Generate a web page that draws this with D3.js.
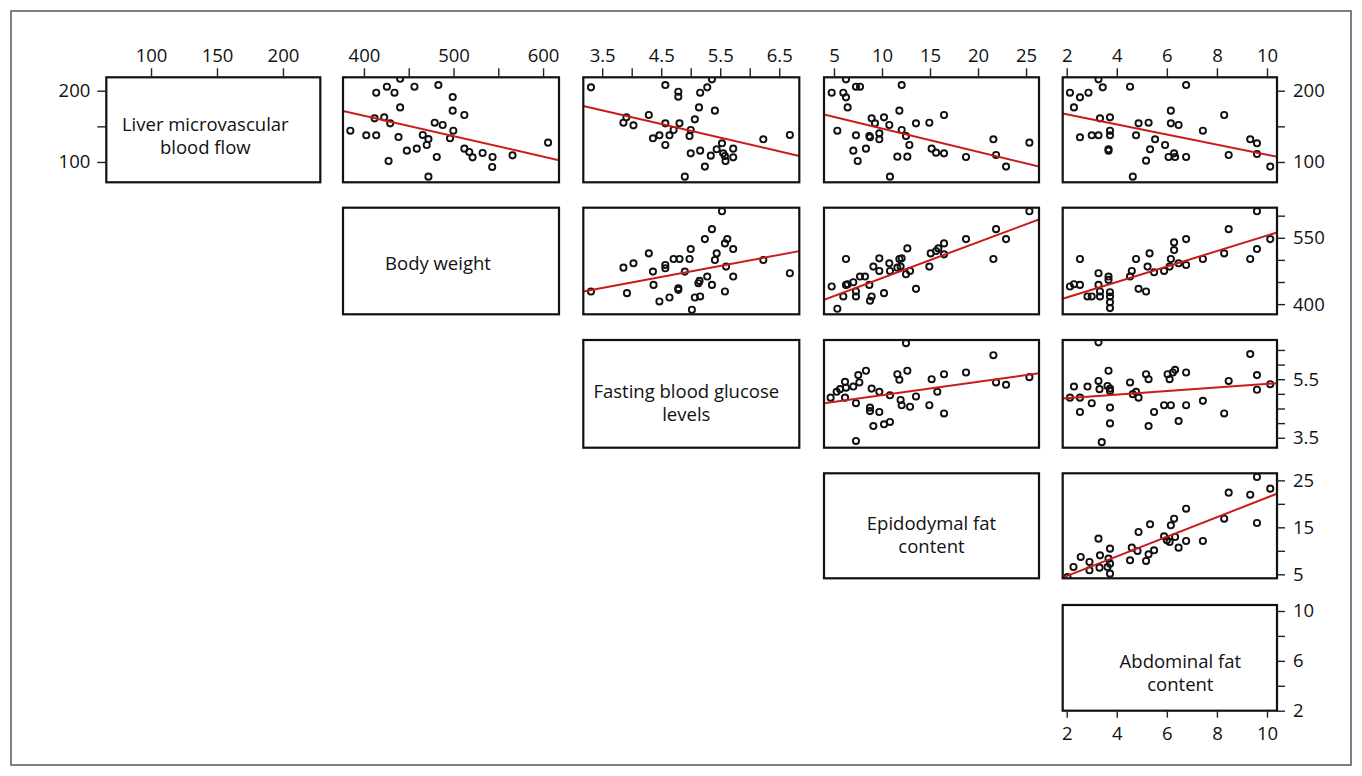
<!DOCTYPE html>
<html><head><meta charset="utf-8">
<script src="https://cdn.jsdelivr.net/npm/d3@7"></script>
<style>
html,body{margin:0;padding:0;background:#fff;}
svg{display:block;}
text{font-family:"Open Sans","Noto Sans",sans-serif;fill:#111;}
</style></head><body>
<svg id="chart" width="1362" height="776"></svg>
<script>
// ---------------- DATA ----------------
const variableLabels = [
  ["Liver microvascular", "blood flow"],
  ["Body weight"],
  ["Fasting blood glucose", "levels"],
  ["Epidodymal fat", "content"],
  ["Abdominal fat", "content"]
];
// axis ranges per variable (as used horizontally / vertically)
const xDomains = [[66.1, 228.3], [376.6, 617.8], [3.18, 6.84], [3.96, 26.35], [1.84, 10.4]];
const yDomains = [[71.5, 218.8], [377, 618], [3.16, 6.84], [4.15, 26.5], [2, 10.48]];

const topTicks = [[100,150,200],[400,450,500,550,600],[3.5,4,4.5,5,5.5,6,6.5],[5,10,15,20,25],[2,4,6,8,10]];
const topTickLabels = [[100,150,200],[400,500,600],[3.5,4.5,5.5,6.5],[5,10,15,20,25],[2,4,6,8,10]];
const rightTicks = [[100,150,200],[400,450,500,550,600],[3.5,4,4.5,5,5.5,6,6.5],[5,10,15,20,25],[2,4,6,8,10]];
const rightTickLabels = [[100,200],[400,550],[3.5,5.5],[5,15,25],[2,6,10]];
const leftTicks = [100,150,200];
const leftTickLabels = [100,200];
const bottomTicks = [2,4,6,8,10];
const bottomTickLabels = [2,4,6,8,10];

// scatter pairs [x, y]
const bwLiver = [[384.8,143.9],[402.6,137.4],[413.7,137.4],[413.7,197.2],[411.9,161.2],[422.6,162.6],[425.6,205.6],[429.3,154.2],[434.1,197.2],[440.4,216.8],[440.4,176.6],[438.6,135.0],[427.5,101.4],[447.9,115.9],[456.4,205.6],[459.0,118.7],[465.7,137.9],[470.1,123.8],[472.0,132.2],[479.0,155.1],[483.1,207.9],[487.9,151.9],[499.1,191.1],[499.1,172.0],[499.8,143.9],[496.1,133.2],[512.1,165.9],[481.3,107.0],[472.0,79.4],[512.1,118.7],[517.6,114.0],[521.3,106.5],[532.5,112.6],[543.6,107.0],[543.2,93.0],[565.9,109.3],[605.6,127.1]];
const glucLiver = [[3.31,204.7],[3.86,155.1],[3.91,162.6],[4.03,151.4],[4.29,165.9],[4.36,133.2],[4.47,137.4],[4.57,207.9],[4.57,154.2],[4.57,123.8],[4.64,137.4],[4.71,144.9],[4.79,198.6],[4.79,191.6],[4.81,154.2],[4.98,136.4],[5.00,144.9],[5.00,112.1],[5.07,159.8],[5.14,176.6],[5.16,197.2],[5.16,115.9],[5.24,93.5],[5.28,204.7],[5.36,215.9],[5.34,108.9],[5.41,172.0],[5.44,117.8],[5.53,126.2],[5.58,108.4],[5.59,101.4],[5.72,118.7],[5.72,106.5],[6.23,131.8],[6.68,137.9],[4.90,79.4],[5.55,112.1]];
const epiLiver = [[4.76,197.2],[5.35,143.9],[5.97,197.2],[6.25,215.9],[6.25,190.7],[6.42,176.6],[7.01,115.9],[7.29,205.6],[7.71,205.6],[7.29,137.4],[7.47,101.4],[8.33,118.7],[8.68,136.4],[8.75,134.6],[8.92,161.2],[9.27,154.2],[9.72,140.2],[9.72,131.8],[10.21,162.6],[10.76,151.9],[10.83,79.4],[11.60,107.5],[11.81,172.0],[12.05,207.9],[12.05,144.9],[12.50,136.4],[12.64,107.5],[12.85,123.8],[13.54,154.2],[14.93,155.1],[15.17,118.7],[15.63,113.1],[16.46,165.9],[16.46,112.1],[18.75,107.0],[21.60,131.8],[21.88,109.8],[22.92,93.5],[25.35,127.1]];
const abdLiver = [[2.13,197.2],[2.29,176.6],[2.53,190.7],[2.53,134.6],[2.87,197.2],[3.00,137.4],[3.27,137.4],[3.27,215.9],[3.44,204.7],[3.33,161.2],[3.73,162.6],[3.73,143.9],[3.73,137.4],[3.67,117.8],[3.67,115.9],[4.53,205.6],[4.64,79.4],[4.77,137.4],[4.87,154.2],[5.17,101.9],[5.27,155.1],[5.33,117.8],[5.53,131.8],[5.93,123.8],[6.07,107.0],[6.16,172.0],[6.16,154.2],[6.29,112.1],[6.33,107.0],[6.47,151.9],[6.77,207.9],[6.77,107.0],[7.44,143.9],[8.29,165.9],[8.47,109.8],[9.33,131.8],[9.60,126.2],[9.60,111.2],[10.13,93.5]];
const glucBw = [[3.31,428.5],[3.86,482.5],[3.92,424.8],[4.03,492.3],[4.29,514.8],[4.36,473.5],[4.37,443.5],[4.47,406.0],[4.57,488.5],[4.57,481.0],[4.64,415.0],[4.71,502.0],[4.81,502.0],[4.79,436.0],[4.79,432.3],[4.90,473.5],[4.98,502.0],[5.00,524.5],[5.02,387.3],[5.07,415.0],[5.13,447.3],[5.15,452.5],[5.16,417.3],[5.24,547.0],[5.28,462.3],[5.36,569.5],[5.36,443.5],[5.41,499.8],[5.44,514.8],[5.53,610.0],[5.58,428.5],[5.60,484.8],[5.58,537.3],[5.62,547.0],[5.72,524.5],[5.72,462.3],[6.23,499.8],[6.68,469.8]];
const epiBw = [[4.76,439.8],[5.35,389.5],[5.97,417.3],[6.25,502.0],[6.25,443.5],[6.42,445.0],[7.01,449.5],[7.29,428.5],[7.29,417.3],[7.71,462.3],[8.23,462.3],[8.68,443.5],[8.75,407.5],[8.92,417.3],[9.10,484.8],[9.72,503.5],[9.72,475.0],[10.21,424.8],[10.76,492.3],[10.83,475.0],[11.60,482.5],[11.81,502.0],[12.05,503.5],[12.50,467.5],[12.64,526.0],[12.92,475.0],[13.54,434.5],[14.93,484.8],[15.07,514.8],[15.63,520.0],[15.87,526.0],[16.46,537.3],[16.46,512.5],[18.75,547.0],[21.60,502.0],[21.88,569.5],[22.92,547.0],[25.35,610.0],[11.94,484.8]];
const abdBw = [[2.13,439.8],[2.29,445.0],[2.53,443.5],[2.53,502.0],[2.83,417.3],[3.00,417.3],[3.27,469.8],[3.27,443.5],[3.33,417.3],[3.33,428.5],[3.67,462.3],[3.67,454.8],[3.73,427.0],[3.73,417.3],[3.73,404.5],[3.73,391.0],[4.53,462.3],[4.60,475.0],[4.77,502.0],[4.87,434.5],[5.17,428.5],[5.23,484.8],[5.31,514.8],[5.49,472.0],[5.89,475.0],[6.11,484.8],[6.16,502.0],[6.29,522.3],[6.29,539.5],[6.47,492.3],[6.77,547.0],[6.77,488.5],[7.44,502.0],[8.29,514.8],[8.47,569.5],[9.33,502.0],[9.60,524.5],[9.60,610.0],[10.13,547.0]];
const epiGluc = [[4.65,4.87],[5.28,5.07],[5.63,5.16],[6.15,5.41],[6.15,4.87],[6.25,5.21],[7.01,5.25],[7.29,4.68],[7.29,3.39],[7.64,5.39],[7.53,5.64],[8.33,5.79],[8.75,4.53],[8.75,4.41],[8.92,5.18],[9.10,3.90],[9.72,5.07],[9.72,4.38],[10.21,3.96],[10.83,4.95],[10.83,4.04],[11.60,5.67],[11.81,5.48],[11.94,4.79],[12.05,4.61],[12.50,6.73],[12.64,5.79],[12.92,4.56],[13.54,4.91],[14.93,4.61],[15.17,5.50],[15.76,5.07],[16.46,5.67],[16.46,4.33],[18.75,5.73],[21.60,6.32],[21.88,5.39],[22.92,5.31],[25.35,5.57]];
const abdGluc = [[2.13,4.87],[2.29,5.25],[2.53,4.87],[2.53,4.38],[2.83,5.25],[3.00,4.68],[3.27,6.76],[3.27,5.44],[3.31,5.16],[3.40,3.35],[3.63,5.27],[3.67,5.79],[3.73,5.18],[3.73,5.10],[3.73,4.53],[3.73,3.99],[4.53,5.39],[4.64,4.99],[4.77,5.07],[4.87,4.87],[5.17,5.67],[5.27,5.50],[5.27,3.90],[5.49,4.38],[5.89,4.61],[6.03,5.67],[6.11,5.50],[6.16,4.61],[6.24,5.73],[6.33,5.82],[6.47,4.07],[6.77,5.73],[6.77,4.61],[7.44,4.76],[8.29,4.33],[8.47,5.44],[9.33,6.36],[9.60,5.64],[9.60,5.14],[10.13,5.33]];
const abdEpi = [[2.03,4.43],[2.27,6.56],[2.56,8.69],[2.91,7.62],[2.91,5.85],[3.27,12.59],[3.31,6.42],[3.33,9.04],[3.63,6.56],[3.67,8.33],[3.73,10.46],[3.73,5.14],[3.73,7.27],[4.53,7.98],[4.60,10.67],[4.83,9.97],[4.87,14.01],[5.17,7.84],[5.27,9.26],[5.33,15.64],[5.49,10.11],[5.89,13.09],[6.00,12.23],[6.11,11.88],[6.16,15.43],[6.29,16.84],[6.33,12.94],[6.47,10.67],[6.77,18.97],[6.77,12.09],[7.44,12.09],[8.29,16.84],[8.47,22.38],[9.33,21.95],[9.60,25.71],[9.60,15.92],[10.13,23.23]];

// fitted regression lines [intercept, slope]
const fitBwLiver = [279.1, -0.2858];
const fitGlucLiver = [239.3, -19.13];
const fitEpiLiver = [179.7, -3.268];
const fitAbdLiver = [181.2, -7.09];
const fitGlucBw = [349.2, 24.95];
const fitEpiBw = [377.6, 8.125];
const fitAbdBw = [379.8, 17.52];
const fitEpiGluc = [4.495, 0.04587];
const fitAbdGluc = [4.724, 0.06145];
const fitAbdEpi = [0.449, 2.088];

// ---------------- LAYOUT ----------------
const colLeft = [106.3, 343, 583.3, 824, 1062.7];
const colWidth = [214, 216, 216, 215, 214.3];
const rowTop = [77.3, 207.7, 340, 473.3, 605];
const rowHeight = [105, 106.6, 107.7, 105, 105.7];
const labelOffsets = [[-8, 1], [-13, 9], [-5, 4], [0, 4], [10.5, 10]]; // dx, dy of first baseline from panel centre
const lineGap = 23;
const fontSize = 18.5;

const panels = [
  {r:0,c:1,pts:bwLiver,fit:fitBwLiver},
  {r:0,c:2,pts:glucLiver,fit:fitGlucLiver},
  {r:0,c:3,pts:epiLiver,fit:fitEpiLiver},
  {r:0,c:4,pts:abdLiver,fit:fitAbdLiver},
  {r:1,c:2,pts:glucBw,fit:fitGlucBw},
  {r:1,c:3,pts:epiBw,fit:fitEpiBw},
  {r:1,c:4,pts:abdBw,fit:fitAbdBw},
  {r:2,c:3,pts:epiGluc,fit:fitEpiGluc},
  {r:2,c:4,pts:abdGluc,fit:fitAbdGluc},
  {r:3,c:4,pts:abdEpi,fit:fitAbdEpi}
];

const svg = d3.select("#chart");
svg.append("rect").attr("x",11).attr("y",11).attr("width",1340).attr("height",754)
  .attr("fill","none").attr("stroke","#555").attr("stroke-width",1.5);

const xs = d3.range(5).map(i => d3.scaleLinear().domain(xDomains[i]).range([colLeft[i], colLeft[i]+colWidth[i]]));
const ys = d3.range(5).map(i => d3.scaleLinear().domain(yDomains[i]).range([rowTop[i]+rowHeight[i], rowTop[i]]));

const defs = svg.append("defs");

function styleAxis(g){
  g.select(".domain").remove();
  g.selectAll(".tick line").attr("stroke","#222").attr("stroke-width",1.4);
  g.selectAll(".tick text").attr("fill","#111").style("font-size", fontSize+"px")
    .style("font-family",'"Open Sans","Noto Sans",sans-serif');
}
const fmt = labels => d => labels.includes(d) ? String(d) : "";

// scatter panels
panels.forEach((p, k) => {
  const x = xs[p.c], y = ys[p.r];
  const id = "clip"+k;
  defs.append("clipPath").attr("id", id).append("rect")
    .attr("x", colLeft[p.c]).attr("y", rowTop[p.r]).attr("width", colWidth[p.c]).attr("height", rowHeight[p.r]);
  const g = svg.append("g").attr("clip-path", `url(#${id})`);
  g.selectAll("circle").data(p.pts).join("circle")
    .attr("cx", d => x(d[0])).attr("cy", d => y(d[1])).attr("r", 3.1)
    .attr("fill","none").attr("stroke","#111").attr("stroke-width",1.9);
  const [a, b] = p.fit;
  const dom = x.domain();
  g.append("line")
    .attr("x1", x(dom[0])).attr("y1", y(a + b*dom[0]))
    .attr("x2", x(dom[1])).attr("y2", y(a + b*dom[1]))
    .attr("stroke","#c81b1b").attr("stroke-width",2);
});

// diagonal label panels
variableLabels.forEach((lines, i) => {
  const cx = colLeft[i] + colWidth[i]/2 + labelOffsets[i][0];
  const cy = rowTop[i] + rowHeight[i]/2 + labelOffsets[i][1];
  const t = svg.append("text").attr("text-anchor","middle").style("font-size", fontSize+"px");
  lines.forEach((ln, j) => t.append("tspan").attr("x", cx).attr("y", cy + j*lineGap).text(ln));
});

// panel borders
panels.concat(d3.range(5).map(i => ({r:i,c:i}))).forEach(p => {
  svg.append("rect").attr("x", colLeft[p.c]).attr("y", rowTop[p.r])
    .attr("width", colWidth[p.c]).attr("height", rowHeight[p.r])
    .attr("fill","none").attr("stroke","#111").attr("stroke-width",2.2);
});

// top axes
d3.range(5).forEach(i => {
  svg.append("g").attr("transform", `translate(0,${rowTop[0]})`)
    .call(d3.axisTop(xs[i]).tickValues(topTicks[i]).tickSize(9).tickPadding(6).tickSizeOuter(0).tickFormat(fmt(topTickLabels[i])))
    .call(styleAxis);
});
// right axes
d3.range(5).forEach(i => {
  svg.append("g").attr("transform", `translate(${colLeft[4]+colWidth[4]},0)`)
    .call(d3.axisRight(ys[i]).tickValues(rightTicks[i]).tickSize(8).tickPadding(8).tickSizeOuter(0).tickFormat(fmt(rightTickLabels[i])))
    .call(styleAxis);
});
// left axis (first row)
svg.append("g").attr("transform", `translate(${colLeft[0]},0)`)
  .call(d3.axisLeft(ys[0]).tickValues(leftTicks).tickSize(9).tickPadding(7).tickSizeOuter(0).tickFormat(fmt(leftTickLabels)))
  .call(styleAxis);
// bottom axis (last column)
svg.append("g").attr("transform", `translate(0,${rowTop[4]+rowHeight[4]})`)
  .call(d3.axisBottom(xs[4]).tickValues(bottomTicks).tickSize(7).tickPadding(9).tickSizeOuter(0).tickFormat(fmt(bottomTickLabels)))
  .call(styleAxis);
</script>
</body></html>
